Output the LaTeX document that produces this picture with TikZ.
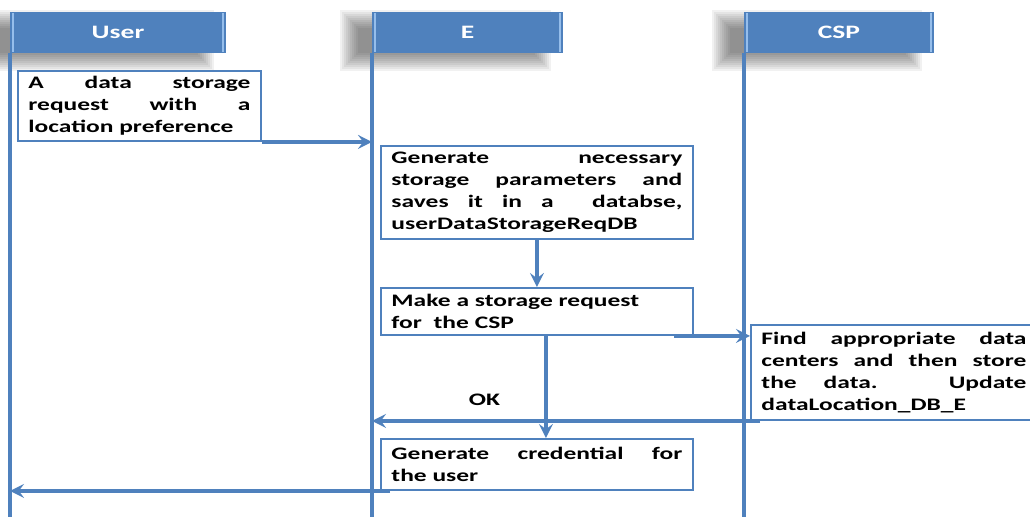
\documentclass[tikz,border=0pt]{standalone}
\usepackage{fontspec}
\newfontfamily\boxfont{Carlito}[FakeStretch=1.45]
\definecolor{msgblue}{RGB}{79,129,189}
\definecolor{edgeblue}{RGB}{150,190,235}
\usetikzlibrary{arrows.meta, positioning, backgrounds, calc}

\begin{document}
\begin{tikzpicture}[
        x=0.02cm, y=-0.02cm,
        head/.style={rectangle, fill=msgblue, draw=msgblue, line width=0.6pt, minimum height=0.8cm, anchor=north west, inner sep=0pt, text=white, font=\boxfont\bfseries\fontsize{10.8pt}{12pt}\selectfont,
            path picture={\draw[edgeblue, line width=1.4pt] ([xshift=1.5pt]path picture bounding box.north west) -- ([xshift=1.5pt]path picture bounding box.south west);
                \draw[edgeblue, line width=1.4pt] ([xshift=-1.5pt]path picture bounding box.north east) -- ([xshift=-1.5pt]path picture bounding box.south east);}},
        haze/.style={black, opacity=0.055},
        box/.style={rectangle, draw=msgblue, line width=1.1pt, fill=white, anchor=north west, inner xsep=0.21cm, inner ysep=0.03cm, align=justify, font=\boxfont\bfseries\fontsize{10pt}{12.47pt}\selectfont},
        life/.style={draw=msgblue, line width=2.3pt},
        arrow/.style={-{Stealth[length=8pt, width=8pt, inset=3pt]}, line width=2.2pt, msgblue}
    ]
        \useasboundingbox (0,0) rectangle (1030,517);
        \coordinate (bottom) at (0,517);

        % Lifeline heads
        \node[head, minimum width=4.3cm] (user) at (10,12) {User};
        \node[head, minimum width=3.8cm] (e) at (372,12) {E};
        \node[head, minimum width=3.78cm] (csp) at (744,12) {CSP};

        % soft shadows behind the heads
        \begin{scope}[on background layer]
            \foreach \h in {user,e,csp}
                \foreach \r in {-8,-6,...,10}
                    \fill[haze] ($(\h.north west)+(-22-\r,8-\r)$) rectangle ($(\h.south east)+(-22+\r,8+\r)$);
        \end{scope}

        % Lifelines
        \draw[life] (user.south west) -- (user.south west |- bottom);
        \draw[life] (e.south west) -- (e.south west |- bottom);
        \draw[life] (csp.south west) -- (csp.south west |- bottom);

        % Steps
        \node[box, text width=4.44cm, minimum height=1.4cm] (req) at (17,70) {A data storage\linebreak request with a\linebreak location preference};
        \node[box, text width=5.82cm, minimum height=1.86cm] (gen) at (380,145) {Generate necessary\linebreak storage parameters and\linebreak saves it in a~ databse,\linebreak userDataStorageReqDB};
        \node[box, text width=5.82cm, minimum height=0.94cm, align=left] (mk) at (380,287) {Make a storage request\\ for~ the CSP};
        \node[box, text width=5.30cm, minimum height=1.9cm] (find) at (750,324) {Find appropriate data\linebreak centers and then store\linebreak the data. Update\linebreak dataLocation\_DB\_E};
        \node[box, text width=5.82cm, minimum height=1.02cm] (cred) at (380,438) {Generate credential for\linebreak the user};

        % Messages
        \draw[arrow] (req.south east) -- (req.south east -| e.south west);
        \draw[arrow] (gen.south) -- (mk.north);
        \draw[arrow] ([xshift=-0.4cm]mk.south east) -- (mk.south east -| find.west);
        \draw[arrow] ([xshift=0.18cm]mk.south) -- ([xshift=0.18cm]cred.north);
        \draw[arrow] ([xshift=0.2cm]find.south west) -- (find.south west -| e.south west)
            node[pos=0.71, above=0.16cm, text=black, font=\boxfont\bfseries\fontsize{10pt}{12pt}\selectfont] (ok) {OK};
        \draw[arrow] ([xshift=0.2cm]cred.south west) -- (cred.south west -| user.south west);
\end{tikzpicture}
\end{document}
